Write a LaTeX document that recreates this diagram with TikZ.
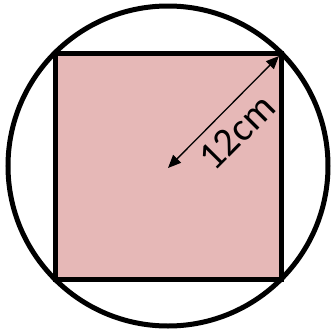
\documentclass[tikz,border=0pt]{standalone}
\usepackage{fontspec}
\setmainfont{Carlito}
\usepackage{xcolor}
\definecolor{sqpink}{RGB}{230,184,183}
\usetikzlibrary{arrows.meta}

\begin{document}
\begin{tikzpicture}[x=1pt,y=-1pt]
  \useasboundingbox (0,0) rectangle (333,335);

  % Square
  \draw[fill=sqpink, line width=5pt] (55,53) rectangle (281,279);

  % Circle round the square
  \draw[line width=5pt] (168,166) circle (160pt);

  % Radius arrow
  \coordinate (centre) at (168,168);
  \coordinate (corner) at (279,56);
  \draw[{Triangle[length=13pt,width=11pt]}-{Triangle[length=13pt,width=11pt]}, line width=1.3pt]
       (centre) -- (corner)
       node[pos=0.47, sloped, below=8pt, inner sep=2pt, font=\fontsize{40}{46}\selectfont] (len) {12cm};
\end{tikzpicture}
\end{document}
